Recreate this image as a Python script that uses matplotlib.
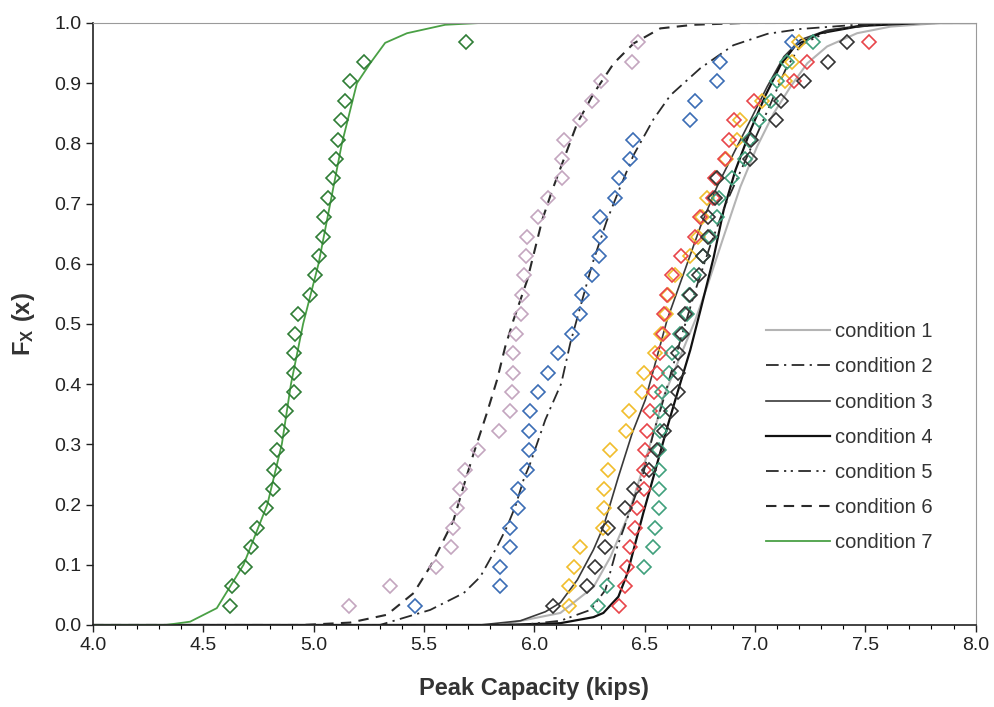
import matplotlib.pyplot as plt
from matplotlib.ticker import MultipleLocator, FormatStrFormatter

plt.rcParams['font.family'] = ['Liberation Sans', 'DejaVu Sans']
plt.rcParams['mathtext.fontset'] = 'custom'
plt.rcParams['mathtext.rm'] = 'Liberation Sans'
plt.rcParams['mathtext.bf'] = 'Liberation Sans:bold'

# plotting positions i/(n+1) for the 30 test results of each condition
rank_prob = [0.032, 0.065, 0.097, 0.129, 0.161, 0.194, 0.226, 0.258, 0.290, 0.323,
             0.355, 0.387, 0.419, 0.452, 0.484, 0.516, 0.548, 0.581, 0.613, 0.645,
             0.677, 0.710, 0.742, 0.774, 0.806, 0.839, 0.871, 0.903, 0.935, 0.968]

# measured peak capacities (kips), sorted
test_green = [4.621, 4.629, 4.689, 4.717, 4.742, 4.785, 4.815, 4.822, 4.836, 4.857,
              4.874, 4.912, 4.912, 4.912, 4.916, 4.931, 4.984, 5.004, 5.025, 5.042,
              5.049, 5.064, 5.087, 5.101, 5.110, 5.125, 5.140, 5.166, 5.229, 5.692]
test_pink = [5.158, 5.344, 5.556, 5.622, 5.631, 5.649, 5.664, 5.687, 5.747, 5.838,
             5.888, 5.899, 5.903, 5.903, 5.918, 5.940, 5.944, 5.951, 5.964, 5.967,
             6.018, 6.063, 6.126, 6.126, 6.135, 6.209, 6.262, 6.302, 6.443, 6.468]
test_blue = [5.460, 5.843, 5.846, 5.891, 5.891, 5.924, 5.925, 5.967, 5.974, 5.974,
             5.979, 6.018, 6.063, 6.109, 6.171, 6.209, 6.216, 6.262, 6.292, 6.299,
             6.299, 6.367, 6.382, 6.432, 6.448, 6.704, 6.727, 6.829, 6.840, 7.169]
test_yellow = [6.156, 6.156, 6.181, 6.209, 6.312, 6.314, 6.314, 6.332, 6.341, 6.417,
               6.428, 6.488, 6.496, 6.549, 6.575, 6.599, 6.608, 6.636, 6.704, 6.744,
               6.760, 6.783, 6.825, 6.871, 6.919, 6.934, 7.033, 7.134, 7.169, 7.199]
test_red = [6.382, 6.413, 6.420, 6.435, 6.458, 6.466, 6.496, 6.496, 6.503, 6.511,
            6.523, 6.544, 6.556, 6.571, 6.585, 6.590, 6.603, 6.626, 6.665, 6.730,
            6.753, 6.812, 6.821, 6.862, 6.881, 6.904, 6.995, 7.176, 7.237, 7.516]
test_teal = [6.287, 6.330, 6.496, 6.538, 6.549, 6.564, 6.564, 6.564, 6.565, 6.568,
             6.571, 6.579, 6.609, 6.624, 6.659, 6.692, 6.700, 6.722, 6.765, 6.794,
             6.830, 6.837, 6.897, 6.953, 6.972, 7.020, 7.073, 7.101, 7.146, 7.264]
test_black = [6.086, 6.239, 6.277, 6.322, 6.332, 6.413, 6.450, 6.518, 6.556, 6.590,
              6.620, 6.650, 6.650, 6.650, 6.670, 6.685, 6.707, 6.745, 6.766, 6.786,
              6.789, 6.821, 6.830, 6.976, 6.980, 7.094, 7.119, 7.221, 7.332, 7.418]

# fitted CDF curves (x in kips, F)
c1_x = [4.0, 5.846, 6.118, 6.268, 6.345, 6.422, 6.494, 6.558, 6.580, 6.730, 6.783,
        6.858, 6.934, 7.010, 7.085, 7.161, 7.237, 7.327, 7.463, 7.615, 7.841, 8.0]
c1_f = [0.0, 0.0, 0.020, 0.063, 0.113, 0.179, 0.262, 0.341, 0.374, 0.507, 0.562,
        0.645, 0.728, 0.795, 0.850, 0.894, 0.933, 0.961, 0.983, 0.994, 1.0, 1.0]
c2_x = [4.0, 5.30, 5.528, 5.680, 5.755, 5.831, 5.876, 5.914, 5.951, 5.982, 6.050,
        6.122, 6.163, 6.209, 6.263, 6.327, 6.381, 6.449, 6.540, 6.617, 6.753, 6.902,
        7.057, 7.206, 7.569, 8.0]
c2_f = [0.0, 0.0, 0.025, 0.053, 0.080, 0.130, 0.163, 0.197, 0.241, 0.269, 0.341,
        0.401, 0.468, 0.529, 0.600, 0.670, 0.720, 0.780, 0.840, 0.880, 0.925, 0.963,
        0.982, 0.990, 1.0, 1.0]
c3_x = [4.0, 5.755, 5.937, 6.050, 6.118, 6.195, 6.268, 6.313, 6.381, 6.444, 6.503,
        6.602, 6.677, 6.753, 6.828, 6.904, 6.980, 7.055, 7.131, 7.206, 7.327, 7.524,
        7.751, 8.0]
c3_f = [0.0, 0.0, 0.007, 0.022, 0.037, 0.075, 0.125, 0.163, 0.246, 0.319, 0.374,
        0.507, 0.584, 0.662, 0.728, 0.784, 0.839, 0.894, 0.944, 0.972, 0.988, 0.998,
        1.0, 1.0]
c4_x = [4.0, 5.846, 6.118, 6.268, 6.313, 6.381, 6.422, 6.458, 6.494, 6.540, 6.603,
        6.639, 6.707, 6.753, 6.813, 6.858, 6.912, 6.980, 7.048, 7.116, 7.184, 7.297,
        7.478, 7.751, 8.0]
c4_f = [0.0, 0.0, 0.003, 0.013, 0.020, 0.047, 0.086, 0.136, 0.186, 0.246, 0.329,
        0.374, 0.457, 0.523, 0.611, 0.689, 0.756, 0.822, 0.880, 0.930, 0.963, 0.983,
        0.995, 1.0, 1.0]
c5_x = [4.0, 5.937, 6.118, 6.254, 6.322, 6.376, 6.494, 6.540, 6.585, 6.662, 6.730,
        6.798, 6.866, 6.957, 7.048, 7.138, 7.206, 7.342, 7.569, 7.751, 8.0]
c5_f = [0.0, 0.0, 0.007, 0.025, 0.058, 0.130, 0.252, 0.319, 0.374, 0.473, 0.556,
        0.631, 0.698, 0.772, 0.847, 0.922, 0.963, 0.988, 0.998, 1.0, 1.0]
c6_x = [4.0, 4.95, 5.166, 5.332, 5.453, 5.528, 5.589, 5.634, 5.679, 5.725, 5.785,
        5.831, 5.868, 5.906, 5.937, 5.968, 6.036, 6.082, 6.132, 6.194, 6.269, 6.360,
        6.450, 6.571, 6.721, 6.95, 8.0]
c6_f = [0.0, 0.0, 0.004, 0.017, 0.053, 0.097, 0.141, 0.174, 0.230, 0.285, 0.352,
        0.407, 0.462, 0.507, 0.540, 0.573, 0.673, 0.723, 0.772, 0.833, 0.883, 0.933,
        0.966, 0.991, 0.997, 1.0, 1.0]
c7_x = [4.0, 4.33, 4.440, 4.561, 4.682, 4.790, 4.856, 4.897, 4.952, 5.022, 5.075,
        5.128, 5.196, 5.256, 5.324, 5.423, 5.596, 5.755, 8.0]
c7_f = [0.0, 0.0, 0.0055, 0.028, 0.100, 0.200, 0.301, 0.400, 0.500, 0.600, 0.700,
        0.800, 0.900, 0.933, 0.967, 0.983, 0.997, 1.0, 1.0]

fig = plt.figure(figsize=(9.95, 7.07), dpi=100)
ax = fig.add_axes([0.0935, 0.116, 0.887, 0.8515])

# test data as open diamonds
tests = [(test_green, '#2f7d35'), (test_pink, '#c4a6bf'), (test_blue, '#3b6db5'),
         (test_yellow, '#f1bd2c'), (test_red, '#e8454a'), (test_teal, '#3fa07c'),
         (test_black, '#333333')]
for vals, col in tests:
    ax.plot(vals, rank_prob, linestyle='none', marker='D', ms=7.2,
            mfc='none', mec=col, mew=1.2, zorder=3)

# fitted curves
ax.plot(c1_x, c1_f, color='#b4b4b4', lw=1.5, label='condition 1', zorder=2)
ax.plot(c2_x, c2_f, color='#2a2a2a', lw=1.3, ls=(0, (7, 3, 1.2, 3)),
        label='condition 2', zorder=2)
ax.plot(c3_x, c3_f, color='#3a3a3a', lw=1.2, label='condition 3', zorder=2)
ax.plot(c4_x, c4_f, color='#111111', lw=1.6, label='condition 4', zorder=2)
ax.plot(c5_x, c5_f, color='#2a2a2a', lw=1.3, ls=(0, (7, 3, 1.2, 2.5, 1.2, 3)),
        label='condition 5', zorder=2)
ax.plot(c6_x, c6_f, color='#2a2a2a', lw=1.5, ls=(0, (5, 3.5)),
        label='condition 6', zorder=2)
ax.plot(c7_x, c7_f, color='#4aa045', lw=1.3, label='condition 7', zorder=2)

ax.set_xlim(4.0, 8.0)
ax.set_ylim(0.0, 1.0)
ax.xaxis.set_major_locator(MultipleLocator(0.5))
ax.xaxis.set_minor_locator(MultipleLocator(0.1))
ax.yaxis.set_major_locator(MultipleLocator(0.1))
ax.xaxis.set_major_formatter(FormatStrFormatter('%.1f'))
ax.yaxis.set_major_formatter(FormatStrFormatter('%.1f'))
ax.tick_params(axis='both', which='major', labelsize=14, length=5, width=1,
               direction='out', colors='#222222')
ax.tick_params(axis='x', which='minor', length=3, width=0.8, direction='out')

for side in ['top', 'right']:
    ax.spines[side].set_color('#9a9a9a')
    ax.spines[side].set_linewidth(0.8)
for side in ['left', 'bottom']:
    ax.spines[side].set_color('#222222')
    ax.spines[side].set_linewidth(1.2)

ax.set_xlabel('Peak Capacity (kips)', fontsize=17, fontweight='bold',
              color='#333333', labelpad=17)
ax.set_ylabel(r'$\mathbf{F_X\ (x)}$', fontsize=17, color='#333333', labelpad=12)

ax.legend(loc='center left', bbox_to_anchor=(0.762, 0.312), frameon=False,
          fontsize=14.5, handlelength=3.2, handletextpad=0.25, labelspacing=0.8,
          borderpad=0, borderaxespad=0, labelcolor='#333333')

fig.savefig('out.png', dpi=100, facecolor='white')
